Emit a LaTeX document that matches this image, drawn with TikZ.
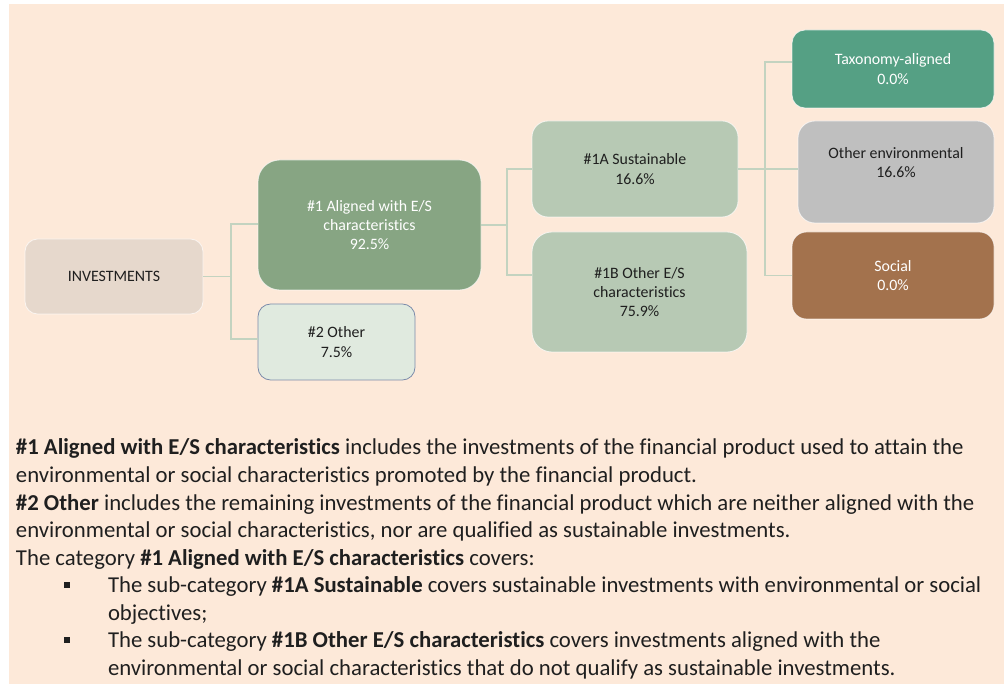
\documentclass[tikz,border=0pt]{standalone}
\usepackage{fontspec}
\setmainfont{Carlito}[Ligatures=NoCommon]
\definecolor{peach}{HTML}{FDE9D9}
\definecolor{invc}{HTML}{E6D8CC}
\definecolor{alc}{HTML}{87A583}
\definecolor{otc}{HTML}{E0EADF}
\definecolor{otb}{HTML}{7A8AAA}
\definecolor{sac}{HTML}{B7C9B4}
\definecolor{txc}{HTML}{55A084}
\definecolor{oec}{HTML}{BFBFBF}
\definecolor{soc}{HTML}{A3724D}
\definecolor{connc}{HTML}{C3D3C0}
\definecolor{ink}{HTML}{1F1F1F}
\begin{document}
\begin{tikzpicture}[x=0.75pt,y=-0.75pt,
  bx/.style={draw=white, draw opacity=0.7, line width=0.6pt, inner sep=0pt, outer sep=0pt, align=center, font=\fontsize{11.9}{14.4}\selectfont, text=ink},
  lighttext/.style={text=white},
  conn/.style={draw=connc, line width=0.8pt},
  body/.style={anchor=base west, inner sep=0pt, outer sep=0pt, font=\fontsize{17.05}{20}\selectfont, text=ink},
  bul/.style={fill=ink, minimum size=4.5pt, inner sep=0pt}
]
\useasboundingbox (0,0) rectangle (1004,684);
\fill[white] (0,0) rectangle (1004,684);
\fill[peach] (9,4) rectangle (1004,684);

% boxes
\node[bx, fill=invc, minimum width=133.5pt, minimum height=56.25pt, rounded corners=9.4pt] (inv) at (114,276.5) {INVESTMENTS};
\node[bx, lighttext, fill=alc, minimum width=167.25pt, minimum height=97.5pt, rounded corners=16.3pt] (al) at (369.5,225) {\#1 Aligned with E/S\\characteristics\\92.5\%};
\node[bx, fill=otc, draw=otb, draw opacity=1, minimum width=117.75pt, minimum height=57pt, rounded corners=9.5pt] (ot) at (336.5,342) {\#2 Other\\7.5\%};
\node[bx, fill=sac, minimum width=154.5pt, minimum height=72pt, rounded corners=12pt] (sa) at (635,169) {\#1A Sustainable\\16.6\%};
\node[bx, fill=sac, minimum width=161.25pt, minimum height=90pt, rounded corners=15pt] (sb) at (639.5,292) {\#1B Other E/S\\characteristics\\75.9\%};
\node[bx, lighttext, fill=txc, minimum width=151.5pt, minimum height=58.5pt, rounded corners=9.75pt] (tx) at (893,69) {Taxonomy-aligned\\0.0\%};
\node[bx, fill=oec, minimum width=147pt, minimum height=76.5pt, rounded corners=12.75pt] (oe) at (896,172) {Other environmental\\16.6\%\\\mbox{}};
\node[bx, lighttext, fill=soc, minimum width=151.5pt, minimum height=65.25pt, rounded corners=10.9pt] (so) at (893,275.5) {Social\\0.0\%};

% connectors
\draw[conn] (inv.east) -- ++(28,0) |- ([yshift=0.75pt]al.west);
\draw[conn] (inv.east) -- ++(28,0) |- ([yshift=2.25pt]ot.west);
\draw[conn] (al.east) -- ++(26,0) |- (sa.west);
\draw[conn] (al.east) -- ++(26,0) |- ([yshift=12.75pt]sb.west);
\draw[conn] (sa.east) -- ++(27,0) |- ([yshift=5.25pt]tx.west);
\draw[conn] (sa.east) -- (sa.east -| oe.west);
\draw[conn] (sa.east) -- ++(27,0) |- (so.west);

% explanatory text
\node[body] (t1) at (16,455) {\textbf{\#1 Aligned with E/S characteristics} includes the investments of the financial product used to attain the};
\node[body] (t2) at (16,482.5) {environmental or social characteristics promoted by the financial product.};
\node[body] (t3) at (16,510) {\textbf{\#2 Other} includes the remaining investments of the financial product which are neither aligned with the};
\node[body] (t4) at (16,537.5) {environmental or social characteristics, nor are qualified as sustainable investments.};
\node[body] (t5) at (16,565) {The category \textbf{\#1 Aligned with E/S characteristics} covers:};
\node[bul] (b1) at (67,585) {};
\node[body] (t6) at (108,592.5) {The sub-category \textbf{\#1A Sustainable} covers sustainable investments with environmental or social};
\node[body] (t7) at (108,620) {objectives;};
\node[bul] (b2) at (67,640) {};
\node[body] (t8) at (108,647.5) {The sub-category \textbf{\#1B Other E/S characteristics} covers investments aligned with the};
\node[body] (t9) at (108,675) {environmental or social characteristics that do not qualify as sustainable investments.};
\end{tikzpicture}
\end{document}
